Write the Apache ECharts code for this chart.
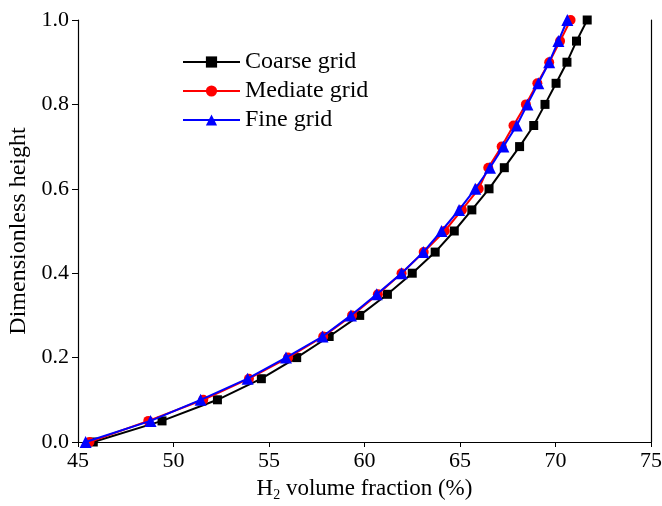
<!DOCTYPE html>
<html><head><meta charset="utf-8">
<script src="https://cdn.jsdelivr.net/npm/echarts@6/dist/echarts.min.js"></script>
<style>html,body{margin:0;padding:0;background:#fff}#c{width:662px;height:506px}</style>
</head><body><div id="c"></div>
<script>
const heights = [0,0.05,0.1,0.15,0.2,0.25,0.3,0.35,0.4,0.45,0.5,0.55,0.6,0.65,0.7,0.75,0.8,0.85,0.9,0.95,1.0];
const coarse = [45.8,49.4,52.3,54.6,56.45,58.15,59.75,61.2,62.5,63.7,64.7,65.62,66.52,67.32,68.12,68.86,69.45,70.03,70.6,71.1,71.66];
const mediate = [45.6,48.68,51.56,53.95,56.0,57.84,59.35,60.7,61.94,63.1,64.2,65.1,65.98,66.48,67.18,67.8,68.45,69.05,69.67,70.24,70.79];
const fine = [45.4,48.8,51.42,53.88,55.89,57.8,59.29,60.64,61.94,63.08,64.03,64.95,65.8,66.57,67.27,67.97,68.53,69.1,69.67,70.15,70.62];
const names = ['Coarse grid','Mediate grid','Fine grid'];
const font = 'Liberation Serif';
function pairs(xs){ return xs.map((x,i)=>[x,heights[i]]); }
const chart = echarts.init(document.getElementById('c'));
const axisLine = {show:true, lineStyle:{color:'#000', width:1.2}};
chart.setOption({
  animation:false,
  grid:{left:78,right:11,top:20,bottom:64, containLabel:false, outerBoundsMode:'none'},
  legend:{
    left:177, top:45, orient:'vertical', itemGap:5, itemWidth:57, itemHeight:14,
    textStyle:{fontFamily:font, fontSize:24, color:'#000'},
    data:names
  },
  xAxis:[{
    type:'value', min:45, max:75, interval:5,
    axisLine:axisLine, axisTick:{show:true, inside:false, length:5, lineStyle:{color:'#000'}},
    splitLine:{show:false},
    axisLabel:{fontFamily:font, fontSize:22, color:'#000', margin:8},
    name:'{a|H}{s|2}{a| volume fraction (%)}', nameLocation:'middle', nameGap:34,
    nameTextStyle:{rich:{a:{fontFamily:font, fontSize:23, color:'#000'}, s:{fontFamily:font, fontSize:14, color:'#000', verticalAlign:'bottom', padding:[12,0,0,0]}}}
  },{
    type:'value', position:'top', min:45, max:75, interval:5,
    axisLine:axisLine, axisTick:{show:false}, axisLabel:{show:false}, splitLine:{show:false}
  }],
  yAxis:[{
    type:'value', min:0, max:1, interval:0.2,
    axisLine:axisLine, axisTick:{show:true, length:6, lineStyle:{color:'#000'}},
    splitLine:{show:false},
    axisLabel:{fontFamily:font, fontSize:22, color:'#000', margin:9, formatter:v=>v.toFixed(1)},
    name:'Dimensionless height', nameLocation:'middle', nameGap:42,
    nameTextStyle:{fontFamily:font, fontSize:24, color:'#000'}
  },{
    type:'value', position:'right', min:0, max:1, interval:0.2,
    axisLine:axisLine, axisTick:{show:false}, axisLabel:{show:false}, splitLine:{show:false}
  }],
  series:[
    {name:names[0], type:'line', data:pairs(coarse), symbol:'rect', symbolSize:9,
     itemStyle:{color:'#000'}, lineStyle:{color:'#000', width:2}, z:2},
    {name:names[1], type:'line', data:pairs(mediate), symbol:'circle', symbolSize:10,
     itemStyle:{color:'#ff0000'}, lineStyle:{color:'#ff0000', width:2}, z:3},
    {name:names[2], type:'line', data:pairs(fine), symbol:'triangle', symbolSize:12,
     itemStyle:{color:'#0000ff'}, lineStyle:{color:'#0000ff', width:2}, z:4}
  ]
});
</script></body></html>
